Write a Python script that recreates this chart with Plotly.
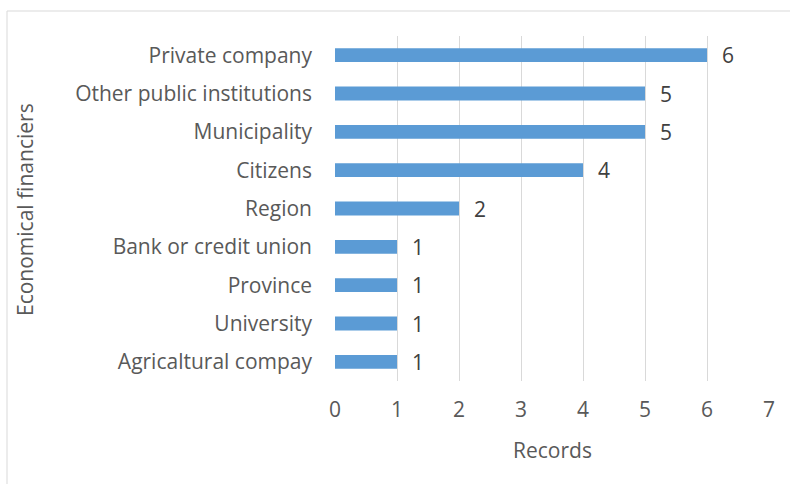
import plotly.graph_objects as go

# Financing sources and their record counts (top to bottom)
categories = ["Private company", "Other public institutions", "Municipality", "Citizens",
              "Region", "Bank or credit union", "Province", "University", "Agricaltural compay"]
records = [6, 5, 5, 4, 2, 1, 1, 1, 1]
x_ticks = [0, 1, 2, 3, 4, 5, 6, 7]

W, H = 790, 484
L, R, T, B = 335, 21, 36, 103
FONT = "Open Sans, sans-serif"
GREY = "#595959"
SIZE = 21

fig = go.Figure(go.Bar(
    y=categories,
    x=records,
    orientation="h",
    marker=dict(color="#5B9BD5", line=dict(width=0)),
    width=0.36,
    cliponaxis=False,
))

# value labels placed just right of each bar end
value_labels = [
    dict(x=v, y=c, xref="x", yref="y", text=str(v), showarrow=False,
         xanchor="left", yanchor="middle", xshift=13,
         font=dict(family=FONT, size=SIZE, color="#404040"))
    for c, v in zip(categories, records)
]

fig.update_layout(
    width=W, height=H,
    margin=dict(l=L, r=R, t=T, b=B),
    paper_bgcolor="white",
    plot_bgcolor="white",
    showlegend=False,
    font=dict(family=FONT, color=GREY),
    xaxis=dict(
        range=[0, 7],
        tickvals=x_ticks,
        ticktext=[str(t) for t in x_ticks],
        showgrid=True, gridcolor="#D9D9D9", gridwidth=1,
        zeroline=False, showline=False,
        tickfont=dict(family=FONT, size=SIZE, color=GREY),
        ticks="", ticklabelstandoff=14,
        fixedrange=True,
    ),
    yaxis=dict(
        autorange="reversed",
        showgrid=False, zeroline=False, showline=False,
        tickfont=dict(family=FONT, size=SIZE, color=GREY),
        ticks="", ticklabelstandoff=22,
        fixedrange=True,
    ),
    shapes=[dict(type="rect", xref="paper", yref="paper",
                 x0=(7 - L) / (W - L - R), x1=1.2,
                 y0=-0.5, y1=1 + (T - 11) / (H - T - B),
                 line=dict(color="#D9D9D9", width=1), layer="below")],
    annotations=value_labels + [
        dict(text="Records", xref="paper", yref="paper",
             x=(552 - L) / (W - L - R), y=1 - (450 - T) / (H - T - B),
             showarrow=False, font=dict(family=FONT, size=SIZE, color=GREY),
             xanchor="center", yanchor="middle"),
        dict(text="Economical financiers", xref="paper", yref="paper",
             x=(25 - L) / (W - L - R), y=1 - (210 - T) / (H - T - B),
             showarrow=False, textangle=-90,
             font=dict(family=FONT, size=SIZE, color=GREY),
             xanchor="center", yanchor="middle"),
    ],
)

fig.write_html("out.html")
